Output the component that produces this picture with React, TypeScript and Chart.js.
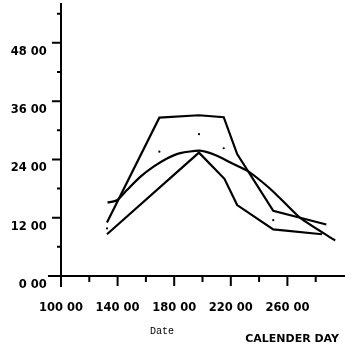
import { useEffect, useRef } from 'react';
import { Chart, registerables } from 'chart.js';

Chart.register(...registerables);

// Upper envelope series
const upperX = [132.5, 169.5, 197.5, 215, 224.5, 250, 287.5];
const upperY = [11.0, 32.6, 33.1, 32.7, 25.1, 13.4, 10.6];

// Lower envelope series
const lowerX = [132.5, 197.5, 215.5, 224.5, 250, 284.5];
const lowerY = [8.6, 25.4, 20.0, 14.6, 9.6, 8.6];

// Smooth fitted curve
const curveX = [132.9, 139.6, 146.6, 156.0, 165.4, 174.9, 184.3, 198.0, 209.0, 220.8, 232.6, 242.0, 251.4, 269.3, 293.8];
const curveY = [15.1, 15.6, 17.7, 20.4, 22.5, 24.2, 25.3, 25.8, 24.9, 23.2, 21.5, 19.4, 17.0, 11.9, 7.3];

// Observed points
const dotX = [132.5, 169.5, 197.5, 215, 250];
const dotY = [9.8, 25.6, 29.2, 26.3, 11.5];

// Tick labels
const xMajorValues = [100, 140, 180, 220, 260];
const xTickLabels = ['100 00', '140 00', '180 00', '220 00', '260 00'];
const yMajorValues = [0, 12, 24, 36, 48];
const yTickLabels = ['0 00', '12 00', '24 00', '36 00', '48 00'];

const xAxisName = 'CALENDER DAY';
const dateLabel = 'Date';

const toPts = (xs: number[], ys: number[]) => xs.map((x, i) => ({ x, y: ys[i] }));

const tickFont = { family: 'DejaVu Sans', weight: 'bold' as const, size: 11.5 };

const ticksPlugin = {
  id: 'plotTicks',
  afterDraw(chart: any) {
    const ctx = chart.ctx as CanvasRenderingContext2D;
    const xs = chart.scales.x;
    const ys = chart.scales.y;
    const area = chart.chartArea;
    ctx.save();
    ctx.strokeStyle = '#000';
    ctx.lineWidth = 2;
    ctx.beginPath();
    xs.ticks.forEach((t: any) => {
      const v = t.value;
      if (v >= xs.max) return;
      const px = xs.getPixelForValue(v);
      const major = xMajorValues.includes(v);
      const len = major ? (v === xs.min ? 11 : 10) : 6;
      ctx.moveTo(px, area.bottom);
      ctx.lineTo(px, area.bottom + len);
    });
    ys.ticks.forEach((t: any) => {
      const v = t.value;
      if (v >= ys.max) return;
      const py = ys.getPixelForValue(v);
      const major = yMajorValues.includes(v);
      const len = major ? (v === 0 ? 13 : 9) : 4;
      ctx.moveTo(area.left - len, py);
      ctx.lineTo(area.left, py);
    });
    ctx.stroke();

    ctx.fillStyle = '#000';
    ctx.textBaseline = 'middle';
    ctx.textAlign = 'center';
    ctx.font = '10px "Liberation Mono"';
    ctx.fillText(dateLabel, 162, 331);
    ctx.textAlign = 'right';
    ctx.font = 'bold 11px "DejaVu Sans"';
    ctx.fillText(xAxisName, 339, 339.5);
    ctx.restore();
  },
};

const resetPad = (s: any) => {
  s.paddingTop = 0;
  s.paddingBottom = 0;
  s.paddingLeft = 0;
  s.paddingRight = 0;
};

export default function App() {
  const ref = useRef<HTMLCanvasElement>(null);
  useEffect(() => {
    if (!ref.current) return;
    const lineDs = (label: string, xs: number[], ys: number[], tension: number) => ({
      label,
      data: toPts(xs, ys),
      showLine: true,
      borderColor: '#000',
      borderWidth: 2.2,
      pointRadius: 0,
      tension,
      fill: false,
    });
    const chart = new Chart(ref.current, {
      type: 'scatter',
      data: {
        datasets: [
          lineDs('upper', upperX, upperY, 0),
          lineDs('lower', lowerX, lowerY, 0),
          lineDs('curve', curveX, curveY, 0.2),
          {
            label: 'points',
            data: toPts(dotX, dotY),
            showLine: false,
            pointRadius: 1.1,
            pointBackgroundColor: '#000',
            pointBorderColor: '#000',
            pointBorderWidth: 0,
          },
        ],
      },
      options: {
        animation: false,
        responsive: true,
        maintainAspectRatio: false,
        layout: { padding: { left: 0, right: 8, top: 3, bottom: 0 } },
        plugins: { legend: { display: false }, tooltip: { enabled: false }, title: { display: false } },
        scales: {
          x: {
            type: 'linear',
            min: 100,
            max: 300,
            afterFit: (s: any) => { s.height = 73; resetPad(s); },
            grid: { display: false, drawTicks: false },
            border: { display: true, color: '#000', width: 2 },
            ticks: {
              stepSize: 20,
              includeBounds: false,
              autoSkip: false,
              maxRotation: 0,
              minRotation: 0,
              padding: 25.5,
              color: '#000',
              font: tickFont,
              callback: (v: any) => {
                const i = xMajorValues.indexOf(Number(v));
                return i >= 0 ? xTickLabels[i] : '';
              },
            },
          },
          y: {
            type: 'linear',
            min: 0,
            max: 56,
            afterFit: (s: any) => { s.width = 61; resetPad(s); },
            grid: { display: false, drawTicks: false },
            border: { display: true, color: '#000', width: 2 },
            ticks: {
              stepSize: 6,
              includeBounds: false,
              autoSkip: false,
              padding: 14.3,
              labelOffset: 9,
              color: '#000',
              font: tickFont,
              callback: (v: any) => {
                const i = yMajorValues.indexOf(Number(v));
                return i >= 0 ? yTickLabels[i] : '';
              },
            },
          },
        },
      },
      plugins: [ticksPlugin],
    });
    return () => chart.destroy();
  }, []);
  return (
    <div style={{ position: 'absolute', left: 0, top: 0, width: 352, height: 349, background: '#fff' }}>
      <canvas ref={ref} />
    </div>
  );
}
